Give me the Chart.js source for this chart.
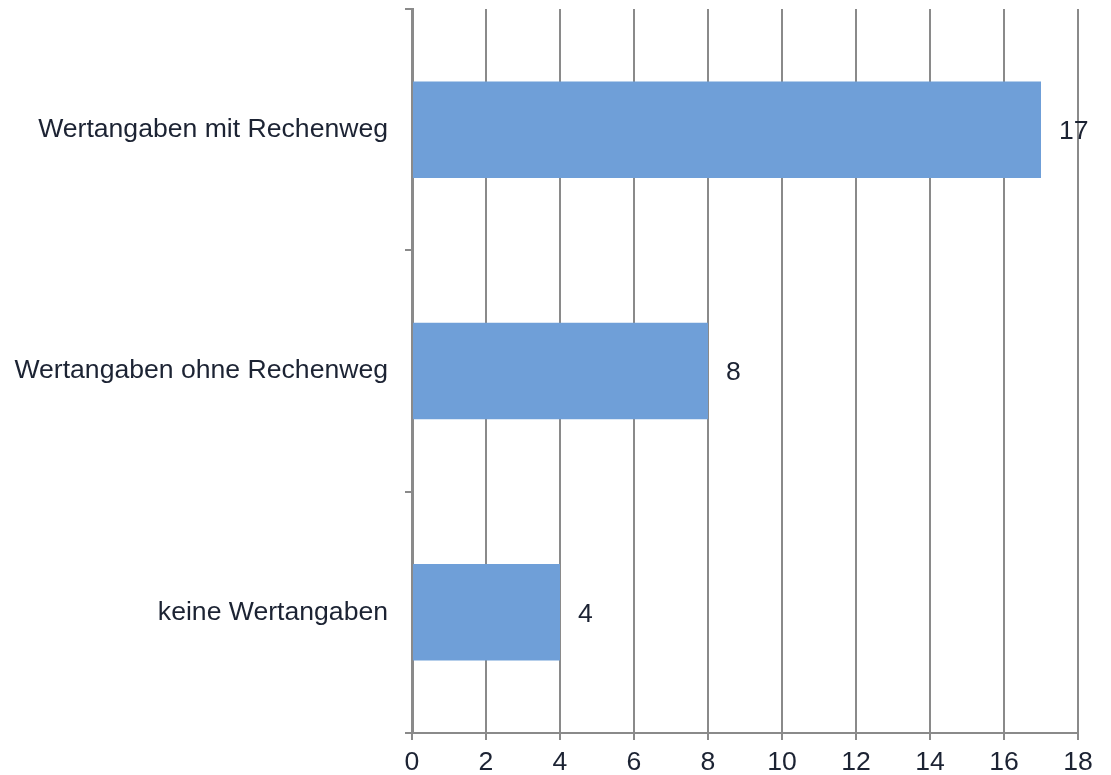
<!DOCTYPE html>
<html lang="de">
<head>
    <meta charset="UTF-8">
    <title>Wertangaben</title>
    <style>
        html, body { margin: 0; padding: 0; background: #fff; }
        #wrap { width: 1111px; height: 775px; }
    </style>
</head>
<body>
<div id="wrap"><canvas id="myChart" width="1111" height="775"></canvas></div>
<script src="https://cdn.jsdelivr.net/npm/chart.js@4.4.1/dist/chart.umd.min.js"></script>
<script>
    var categories = ['Wertangaben mit Rechenweg', 'Wertangaben ohne Rechenweg', 'keine Wertangaben'];
    var values = [17, 8, 4];
    var xTicks = [0, 2, 4, 6, 8, 10, 12, 14, 16, 18];

    var textColor = '#1c2333';
    var lineColor = '#8a8a8a';
    var fontFamily = '"Liberation Sans", Arial, sans-serif';
    var fontSize = 26.6;

    // value labels to the right of each bar
    var valueLabels = {
        id: 'valueLabels',
        afterDatasetsDraw: function(chart) {
            var ctx = chart.ctx;
            var meta = chart.getDatasetMeta(0);
            ctx.save();
            ctx.font = fontSize + 'px ' + fontFamily;
            ctx.fillStyle = textColor;
            ctx.textAlign = 'left';
            ctx.textBaseline = 'middle';
            meta.data.forEach(function(bar, i) {
                ctx.fillText(String(values[i]), bar.x + 18, bar.y + 2);
            });
            ctx.restore();
        }
    };

    var ctx = document.getElementById('myChart').getContext('2d');
    new Chart(ctx, {
        type: 'bar',
        data: {
            labels: categories,
            datasets: [{
                data: values,
                backgroundColor: '#6f9fd8',
                barPercentage: 0.4,
                categoryPercentage: 1.0
            }]
        },
        plugins: [valueLabels],
        options: {
            indexAxis: 'y',
            responsive: false,
            animation: false,
            layout: { padding: { top: 9, right: 33, left: 0, bottom: 0 } },
            plugins: { legend: { display: false }, tooltip: { enabled: false } },
            scales: {
                x: {
                    min: 0,
                    max: 18,
                    afterBuildTicks: function(scale) {
                        scale.ticks = xTicks.map(function(v) { return { value: v }; });
                    },
                    afterFit: function(scale) {
                        scale.height = 42;
                        scale.paddingLeft = 0;
                        scale.paddingRight = 0;
                    },
                    grid: { color: lineColor, lineWidth: 2, tickLength: 7 },
                    border: { color: lineColor, width: 2 },
                    ticks: {
                        color: textColor,
                        padding: 7,
                        font: { family: fontFamily, size: fontSize }
                    }
                },
                y: {
                    afterFit: function(scale) {
                        scale.width = 412;
                        scale.paddingTop = 0;
                        scale.paddingBottom = 0;
                    },
                    grid: { drawOnChartArea: false, color: lineColor, lineWidth: 2, tickLength: 7, offset: true },
                    border: { color: lineColor, width: 3 },
                    ticks: {
                        color: textColor,
                        padding: 17,
                        font: { family: fontFamily, size: fontSize }
                    }
                }
            }
        }
    });
</script>
</body>
</html>
